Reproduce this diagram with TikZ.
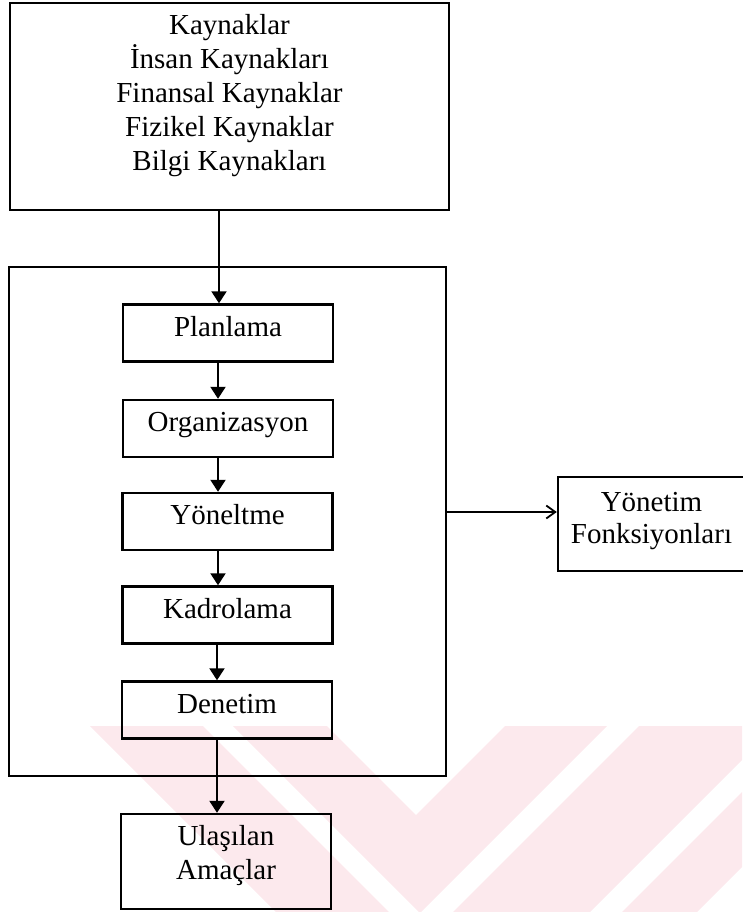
\documentclass[tikz,border=0pt]{standalone}
\usepackage{fontspec}
\setmainfont{Liberation Serif}
\usetikzlibrary{arrows.meta}
\definecolor{wmpink}{RGB}{252,233,237}
\begin{document}
\begin{tikzpicture}[x=1pt,y=-1pt,
  box/.style={draw, line width=2.4pt, rectangle, inner sep=0pt},
  stagebox/.style={box, minimum width=210pt, minimum height=57pt,
    text height=20pt, text depth=14pt, font=\fontsize{29}{34}\selectfont},
  lbl/.style={font=\fontsize{29}{34}\selectfont, inner sep=0pt, align=center},
  flow/.style={line width=2pt, -{Triangle[width=15pt,length=12pt]}},
  side/.style={line width=2pt, -{Straight Barb[length=9pt,width=13pt,line width=1.8pt]}},
]
\useasboundingbox (0,0) rectangle (742,912);

% faint logo stripes in the background
\begin{scope}
  \clip (0,0) rectangle (742,912);
  \fill[wmpink] (90,726) -- (203,726) -- (421,944) -- (639,726) -- (776,726) -- (433,1069) -- cycle;
  \fill[wmpink] (233,726) -- (327,726) -- (416,815) -- (505,726) -- (607,726) -- (420,913) -- cycle;
  \fill[wmpink] (808,726) -- (883,726) -- (697,912) -- (622,912) -- cycle;
\end{scope}

% resources
\node[box, minimum width=439pt, minimum height=207pt] (res) at (229.5,106.5) {};
\node[lbl, anchor=north] (reslbl) at (229.5,14.6)
  {Kaynaklar\\İnsan Kaynakları\\Finansal Kaynaklar\\Fizikel Kaynaklar\\Bilgi Kaynakları};

% management process frame
\node[box, minimum width=437pt, minimum height=509pt] (core) at (227.5,521.5) {};

% functions
\node[stagebox] (plan) at (228,333)   {Planlama};
\node[stagebox] (org)  at (228,428.5) {Organizasyon};
\node[stagebox] (yon)  at (227.5,521.5) {Yöneltme};
\node[stagebox] (kad)  at (227.5,615) {Kadrolama};
\node[stagebox] (den)  at (227,710)   {Denetim};

% outcome
\node[box, minimum width=210pt, minimum height=95pt] (goal) at (226,861.5) {};
\node[lbl, anchor=north] (goallbl) at (226,825.2) {Ulaşılan\\Amaçlar};

% management functions label box
\node[box, minimum width=187pt, minimum height=94pt] (fn) at (651.5,524) {};
\node[lbl, anchor=north, font=\fontsize{29}{32}\selectfont] (fnlbl) at (651.5,491.8) {Yönetim\\Fonksiyonları};

% connectors
\coordinate (xa) at (219,0);
\coordinate (xb) at (218,0);
\coordinate (xc) at (217,0);
\coordinate (ya) at (0,512);
\draw[flow] (res.south -| xa) -- (plan.north -| xa);
\draw[flow] (plan.south -| xb) -- (org.north -| xb);
\draw[flow] (org.south -| xb) -- (yon.north -| xb);
\draw[flow] (yon.south -| xb) -- (kad.north -| xb);
\draw[flow] (kad.south -| xc) -- (den.north -| xc);
\draw[flow] (den.south -| xc) -- (goal.north -| xc);
\draw[side] (core.east |- ya) -- (fn.west |- ya);
\end{tikzpicture}
\end{document}
